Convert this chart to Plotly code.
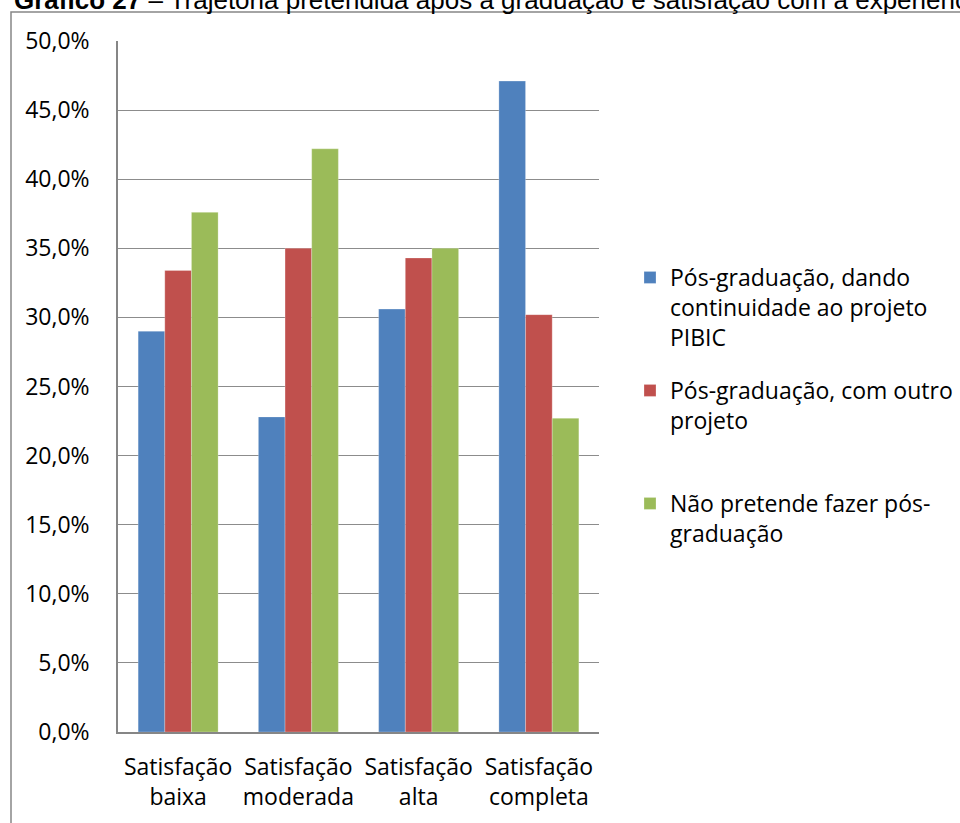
import plotly.graph_objects as go

categories = ["Satisfação<br>baixa", "Satisfação<br>moderada", "Satisfação<br>alta", "Satisfação<br>completa"]
series_names = [
    "Pós-graduação, dando<br>continuidade ao projeto<br>PIBIC",
    "Pós-graduação, com outro<br>projeto",
    "Não pretende fazer pós-<br>graduação",
]
continuidade_pibic = [29.0, 22.8, 30.6, 47.1]
outro_projeto = [33.4, 35.0, 34.3, 30.2]
nao_pretende = [37.6, 42.2, 35.0, 22.7]
colors = ["#4F81BD", "#C0504D", "#9BBB59"]
tick_vals = [0, 5, 10, 15, 20, 25, 30, 35, 40, 45, 50]
tick_text = ["0,0%", "5,0%", "10,0%", "15,0%", "20,0%", "25,0%", "30,0%", "35,0%", "40,0%", "45,0%", "50,0%"]
title_text = "<b>Gráfico 27</b> – Trajetória pretendida após a graduação e satisfação com a experiência"

W, H = 960, 823
L, R, T, B = 118, 599, 41, 732
pw, ph = R - L, B - T

def px_x(x):
    return (x - L) / pw

def px_y(y):
    return (B - y) / ph

fig = go.Figure()
legends = ["legend", "legend2", "legend3"]
for name, vals, c, lg in zip(series_names, [continuidade_pibic, outro_projeto, nao_pretende], colors, legends):
    fig.add_trace(go.Bar(
        x=categories, y=vals, name=name, legend=lg, showlegend=True,
        marker=dict(color=c, line=dict(color="rgba(255,255,255,0.5)", width=0.5)),
    ))

font = "Open Sans, Noto Sans, sans-serif"
leg_common = dict(
    xref="container", yref="container", xanchor="left", yanchor="top",
    font=dict(family=font, size=23, color="#000000"),
    bgcolor="rgba(0,0,0,0)", valign="top", itemclick=False, visible=True,
)
leg_x = 630 / W
fig.update_layout(
    width=W, height=H,
    showlegend=True,
    margin=dict(l=L, r=W - R, t=T, b=H - B),
    paper_bgcolor="white", plot_bgcolor="white",
    barmode="group", bargap=0.335, bargroupgap=0,
    font=dict(family=font, size=23, color="#000000"),
    legend=dict(x=leg_x, y=1 - 256 / H, **leg_common),
    legend2=dict(x=leg_x, y=1 - 369 / H, **leg_common),
    legend3=dict(x=leg_x, y=1 - 482 / H, **leg_common),
    xaxis=dict(
        showline=True, linecolor="#868686", linewidth=1.5,
        showgrid=False, ticks="", tickfont=dict(size=23),
        ticklabelstandoff=14, automargin=False,
    ),
    yaxis=dict(
        range=[0, 50], tickvals=tick_vals, ticktext=tick_text,
        showline=True, linecolor="#868686", linewidth=1.5,
        showgrid=True, gridcolor="#8c8c8c", gridwidth=1.2,
        zeroline=False, ticks="", ticklabelstandoff=22,
        tickfont=dict(size=23), automargin=False,
    ),
    shapes=[dict(
        type="rect", xref="paper", yref="paper",
        x0=px_x(11), x1=px_x(1000), y0=px_y(900), y1=px_y(12),
        line=dict(color="#868686", width=1.5), fillcolor="rgba(0,0,0,0)", layer="below",
    )],
    annotations=[dict(
        text=title_text, xref="paper", yref="paper",
        x=px_x(12), y=px_y(17), xanchor="left", yanchor="bottom",
        showarrow=False, font=dict(family="Liberation Sans, Arial, sans-serif", size=26, color="#000000"),
    )],
)

fig.write_html(
    "out.html",
    config={"displayModeBar": False},
    post_script="document.body.style.margin='0px';document.body.style.overflow='hidden';",
)
